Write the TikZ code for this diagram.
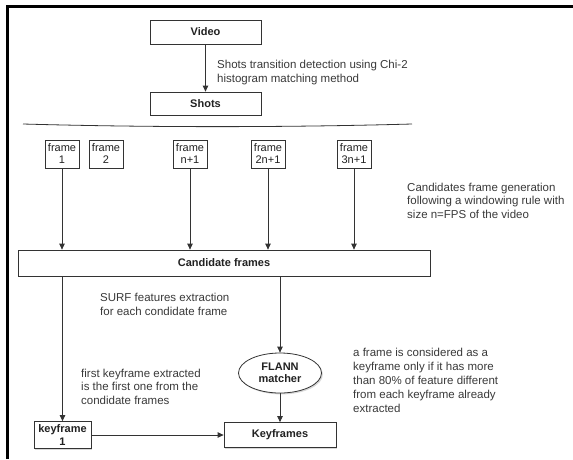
\documentclass[tikz,border=0pt]{standalone}
\usepackage{fontspec}
\setmainfont{Liberation Sans}
\usetikzlibrary{arrows.meta,shapes.geometric,shadows}
\definecolor{lineC}{HTML}{333333}
\definecolor{annot}{HTML}{3A3A3A}
\definecolor{boxtext}{HTML}{222222}
\begin{document}
\begin{tikzpicture}[x=1pt,y=-1pt,
  box/.style={draw=lineC, line width=0.8pt, fill=white, rectangle, inner sep=0pt, align=center, text=boxtext,
    font=\bfseries\fontsize{11}{12.5}\selectfont,
    drop shadow={shadow xshift=1.4pt, shadow yshift=-1.4pt, opacity=0.3}},
  fbox/.style={box, font=\fontsize{11}{12}\selectfont, minimum width=34pt, minimum height=28pt},
  ann/.style={anchor=north west, inner sep=0pt, align=left, text=annot, font=\fontsize{11.5}{14}\selectfont},
  conn/.style={draw=lineC, line width=0.8pt},
  arr/.style={conn, -{Triangle[length=6pt,width=5.5pt]}}
]
\useasboundingbox (0,0) rectangle (573,459);
\fill[white] (0,0) rectangle (573,459);
\draw[line width=3pt, line join=miter] (7,459) -- (7,6) -- (573,6);

% top part
\node[box, minimum width=111pt, minimum height=24pt] (video) at (205.5,32) {Video};
\node[box, minimum width=111pt, minimum height=23pt] (shots) at (205.5,103.5) {Shots};
\draw[arr] (video) -- (shots);
\node[ann] (lbl1) at (217,59.6) {Shots transition detection using Chi-2\\histogram matching method};

% separator
\draw[conn] (23,124) .. controls (150,127.5) and (285,127.5) .. (412,124);

% frames
\node[fbox] (f1) at (62,154) {frame\\1};
\node[fbox] (f2) at (106,154) {frame\\2};
\node[fbox] (fn) at (190,154) {frame\\n+1};
\node[fbox] (f2n) at (268,154) {frame\\2n+1};
\node[fbox] (f3n) at (354,154) {frame\\3n+1};

\node[box, minimum width=412pt, minimum height=26pt] (cand) at (224,263) {Candidate frames};

\draw[arr] (f1) -- (f1 |- cand.north);
\draw[arr] (fn) -- (fn |- cand.north);
\draw[arr] (f2n) -- (f2n |- cand.north);
\draw[arr] (f3n) -- (f3n |- cand.north);

\node[ann] (lbl2) at (407,182.6) {Candidates frame generation\\[-0.5pt]following a windowing rule with\\[-0.5pt]size n=FPS of the video};

% lower part
\node[box, ellipse, minimum width=83pt, minimum height=40pt] (flann) at (280,373) {FLANN\\matcher};
\node[box, minimum width=57pt, minimum height=27pt] (kf1) at (62.5,435) {keyframe\\1};
\node[box, minimum width=112pt, minimum height=25pt] (keyf) at (280,435) {Keyframes};

\draw[arr] (cand.south -| kf1) -- (kf1.north);
\draw[arr] (cand.south -| flann) -- (flann.north);
\draw[arr] (flann) -- (keyf);
\draw[arr] (kf1) -- (keyf);

\node[ann] (lbl3) at (100,292.6) {SURF features extraction\\for each condidate frame};
\node[ann] (lbl4) at (81,368.6) {first keyframe extracted\\[-0.5pt]is the first one from the\\[-0.5pt]condidate frames};
\node[ann] (lbl5) at (353,347.6) {a frame is considered as a\\keyframe only if it has more\\than 80\% of feature different\\from each keyframe already\\extracted};
\end{tikzpicture}
\end{document}
